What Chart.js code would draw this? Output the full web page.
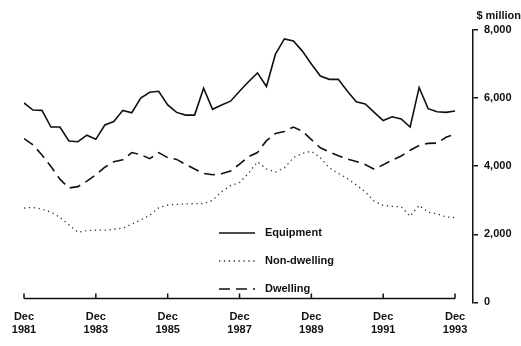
<!DOCTYPE html>
<html lang="en">

<head>
    <meta charset="UTF-8">
    <title>Investment</title>
    <script src="https://cdn.jsdelivr.net/npm/chart.js@4"></script>
    <style>
        body { margin: 0; background: #fff; }
        canvas { display: block; }
    </style>
</head>

<body>
    <canvas id="grafico" width="521" height="346"></canvas>
</body>

</html>

<script>
    // quarterly, Dec 1981 to Dec 1993 ($ million)
    const equipment = [5860, 5650, 5640, 5150, 5150, 4740, 4720, 4910, 4790, 5210,
        5310, 5640, 5570, 6000, 6170, 6200, 5800, 5580, 5500, 5500,
        6290, 5670, 5800, 5910, 6200, 6480, 6740, 6340, 7290, 7740,
        7680, 7380, 7000, 6650, 6550, 6550, 6210, 5890, 5830, 5580,
        5340, 5450, 5390, 5150, 6310, 5690, 5600, 5580, 5620];

    const naoResidencial = [2770, 2790, 2740, 2650, 2500, 2280, 2060, 2110, 2120, 2120,
        2150, 2180, 2300, 2420, 2560, 2780, 2860, 2880, 2890, 2900,
        2900, 3000, 3250, 3430, 3520, 3790, 4130, 3920, 3830, 3950,
        4250, 4380, 4440, 4250, 3950, 3790, 3640, 3450, 3250, 2970,
        2850, 2820, 2810, 2530, 2850, 2650, 2600, 2510, 2490];

    const residencial = [4810, 4630, 4330, 3990, 3620, 3360, 3400, 3560, 3750, 3970,
        4130, 4190, 4400, 4340, 4220, 4400, 4250, 4200, 4050, 3920,
        3790, 3750, 3780, 3860, 4060, 4280, 4400, 4750, 4960, 5020,
        5150, 5030, 4780, 4540, 4420, 4310, 4210, 4140, 4050, 3910,
        4040, 4180, 4300, 4470, 4610, 4670, 4680, 4850, 4940];

    const anosEixo = ['1981', '1983', '1985', '1987', '1989', '1991', '1993'];
    const ticksY = [0, 2000, 4000, 6000, 8000];

    // labels dos trimestres: Dec 1981, Mar 1982, ...
    const meses = ['Dec', 'Mar', 'Jun', 'Sep'];
    const trimestres = [];
    for (let i = 0; i < equipment.length; i++) {
        trimestres.push(meses[i % 4] + ' ' + (1981 + Math.ceil(i / 4)));
    }
    const posicoesX = anosEixo.map(a => trimestres.indexOf('Dec ' + a));

    const fonte = 'Liberation Sans, Arial, sans-serif';
    Chart.defaults.font.family = fonte;
    Chart.defaults.font.size = 11;
    Chart.defaults.font.weight = 'bold';
    Chart.defaults.color = '#111';

    function pontos(serie) {
        return serie.map((v, i) => ({ x: i, y: v }));
    }

    // eixo de baixo com os tracinhos para cima
    const eixoBaixo = {
        id: 'eixoBaixo',
        afterDraw(chart) {
            const ctx = chart.ctx;
            const x = chart.scales.x;
            const base = chart.scales.y.getPixelForValue(0) - 4;
            ctx.save();
            ctx.strokeStyle = '#111';
            ctx.lineWidth = 1.5;
            ctx.beginPath();
            ctx.moveTo(x.getPixelForValue(posicoesX[0]), base);
            ctx.lineTo(x.getPixelForValue(posicoesX[posicoesX.length - 1]), base);
            posicoesX.forEach(p => {
                const px = x.getPixelForValue(p);
                ctx.moveTo(px, base);
                ctx.lineTo(px, base - 5);
            });
            ctx.stroke();
            ctx.restore();
        }
    };

    // legenda dentro da area do grafico
    const legenda = {
        id: 'legenda',
        afterDraw(chart) {
            const ctx = chart.ctx;
            ctx.save();
            chart.data.datasets.forEach((ds, i) => {
                const y = 233 + i * 28;
                ctx.strokeStyle = ds.borderColor;
                ctx.lineWidth = ds.borderWidth;
                ctx.setLineDash(ds.borderDash || []);
                ctx.beginPath();
                ctx.moveTo(219, y);
                ctx.lineTo(255, y);
                ctx.stroke();
                ctx.setLineDash([]);
                ctx.fillStyle = '#111';
                ctx.font = 'bold 11px ' + fonte;
                ctx.textBaseline = 'middle';
                ctx.fillText(ds.label, 265, y);
            });
            ctx.restore();
        }
    };

    new Chart(document.getElementById('grafico'), {
        type: 'line',
        data: {
            datasets: [{
                label: 'Equipment',
                data: pontos(equipment),
                borderColor: '#111',
                borderWidth: 1.6
            }, {
                label: 'Non-dwelling',
                data: pontos(naoResidencial),
                borderColor: '#333',
                borderWidth: 1.3,
                borderDash: [1.3, 3.6]
            }, {
                label: 'Dwelling',
                data: pontos(residencial),
                borderColor: '#111',
                borderWidth: 1.6,
                borderDash: [11, 6]
            }]
        },
        options: {
            responsive: false,
            animation: false,
            devicePixelRatio: 1,
            elements: { point: { radius: 0 }, line: { tension: 0 } },
            layout: { padding: { left: 24, right: 0, top: 0, bottom: 2 } },
            plugins: {
                legend: { display: false },
                tooltip: { enabled: false },
                title: {
                    display: true,
                    text: '$ million',
                    align: 'end',
                    color: '#111',
                    font: { size: 11, weight: 'bold' },
                    padding: { top: 9, bottom: 7.8 }
                }
            },
            scales: {
                x: {
                    type: 'linear',
                    min: 0,
                    max: 50,
                    grid: { display: false, drawTicks: false },
                    border: { display: false },
                    afterBuildTicks: s => { s.ticks = posicoesX.map(v => ({ value: v })); },
                    ticks: {
                        padding: 7.6,
                        maxRotation: 0,
                        autoSkip: false,
                        callback: (v, i) => ['Dec', anosEixo[i]]
                    }
                },
                y: {
                    position: 'right',
                    min: 0,
                    max: 8000,
                    afterBuildTicks: s => { s.ticks = ticksY.map(v => ({ value: v })); },
                    afterFit: s => { s.width = 48; },
                    grid: { drawOnChartArea: false, tickLength: 5, color: '#111', lineWidth: 1.5 },
                    border: { color: '#111', width: 1.5 },
                    ticks: {
                        padding: 6,
                        callback: v => v.toLocaleString('en-US')
                    }
                }
            }
        },
        plugins: [eixoBaixo, legenda]
    });
</script>
